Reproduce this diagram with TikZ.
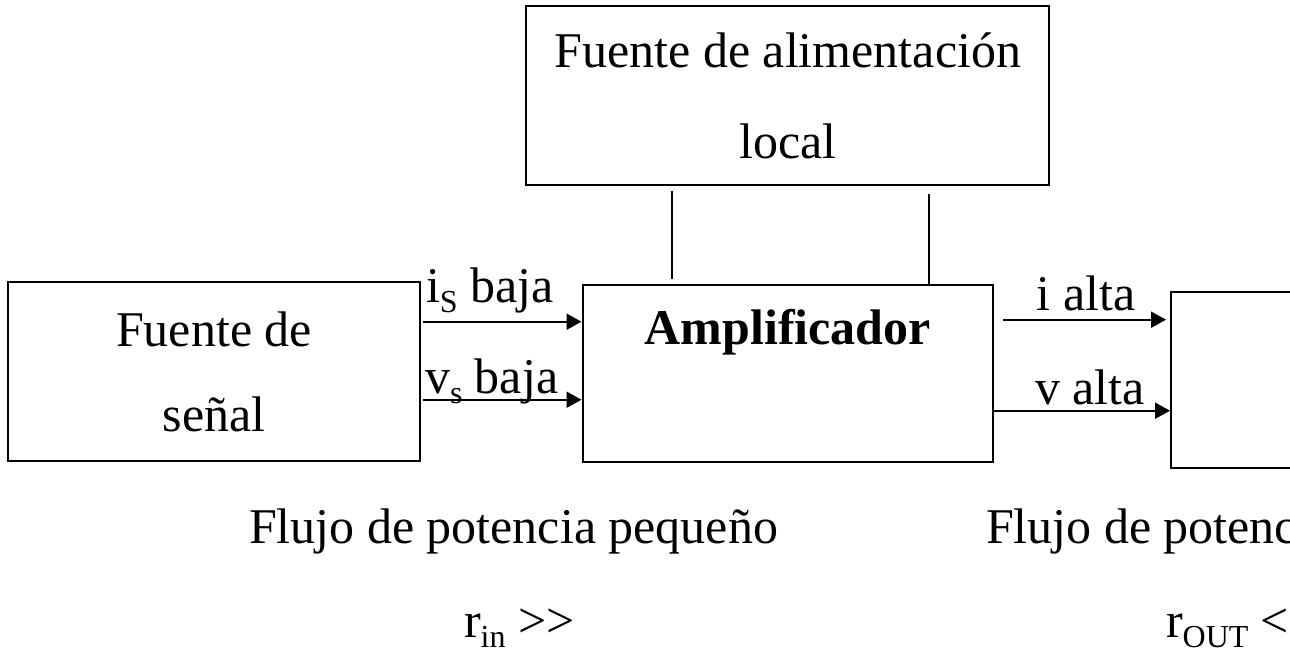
\documentclass[tikz,border=0pt]{standalone}
\usepackage{fontspec}
\setmainfont{Liberation Serif}
\usetikzlibrary{positioning,arrows.meta}

\newcommand\bigtxt{\fontsize{25}{42.5}\selectfont}
\newcommand\lowtxt[1]{\raisebox{-5pt}{\fontsize{16}{16}\selectfont #1}}

\begin{document}
\begin{tikzpicture}[
  x=0.5pt, y=-0.5pt, font=\bigtxt, line width=1pt,
  >={Triangle[length=7.5pt,width=8pt]},
  blk/.style={draw, minimum width=206pt, minimum height=89pt,
              inner sep=0pt, align=center},
  lbl/.style={inner sep=0pt, anchor=base west},
  tag/.style={inner sep=0pt, anchor=base}]

\useasboundingbox (0,0) rectangle (1290,655);
\clip (0,0) rectangle (1290,655);

\node[blk, minimum width=205.25pt, minimum height=88.5pt] (amp) at (787.75,373.5) {};
\node[tag, font={\bigtxt\bfseries}] (amptxt) at ([yshift=-30pt]amp.north) {Amplificador};

\node[blk, left=80.25pt of amp, yshift=1pt, minimum height=89.5pt] (src) {Fuente de\\señal};
\node[blk, above=49.15pt of amp, minimum width=261.5pt, minimum height=89.2pt] (pwr)
  {Fuente de alimentación\\[3pt]local};
\node[blk, right=88pt of amp, yshift=-3.25pt, minimum height=88pt] (load) {};

% supply taps
\coordinate (tapA) at ([xshift=45.25pt]amp.north west);
\coordinate (tapB) at ([xshift=173.75pt]amp.north west);
\draw[shorten <=2.5pt, shorten >=2.5pt] (tapA |- pwr.south) -- (tapA);
\draw[shorten <=4pt] (tapB |- pwr.south) -- (tapB);

% input side
\coordinate (iin) at ([yshift=-18.85pt]amp.north west);
\coordinate (vin) at ([yshift=-57.85pt]amp.north west);
\draw[->, shorten <=1pt] (src.east |- iin) -- (iin)
  node[pos=0, lbl, xshift=2pt, yshift=9.8pt] {i\lowtxt{S} baja};
\draw[->, shorten <=1pt] (src.east |- vin) -- (vin)
  node[pos=0, lbl, xshift=1.5pt, yshift=2.9pt] {v\lowtxt{s} baja};

% output side
\coordinate (iout) at ([yshift=-17.85pt]amp.north east);
\coordinate (vout) at ([yshift=-63.35pt]amp.north east);
\draw[->, shorten <=4.5pt, shorten >=2pt] (iout) -- (load.west |- iout)
  node[pos=0.5, tag, xshift=2pt, yshift=4.5pt] {i alta};
\draw[->] (vout) -- (load.west |- vout)
  node[pos=0.5, tag, xshift=4pt, yshift=3.3pt] {v alta};

% power flow notes
\node[lbl] (flowin) at (248,543) {Flujo de potencia pequeño};
\node[lbl] (rin) at (463,637) {r\lowtxt{in} >\kern0pt>};
\node[lbl] (flowout) at (985,543) {Flujo de potencia grande};
\node[lbl] (rout) at (1165,637) {r\lowtxt{OUT} <\kern0pt<};
\end{tikzpicture}
\end{document}
